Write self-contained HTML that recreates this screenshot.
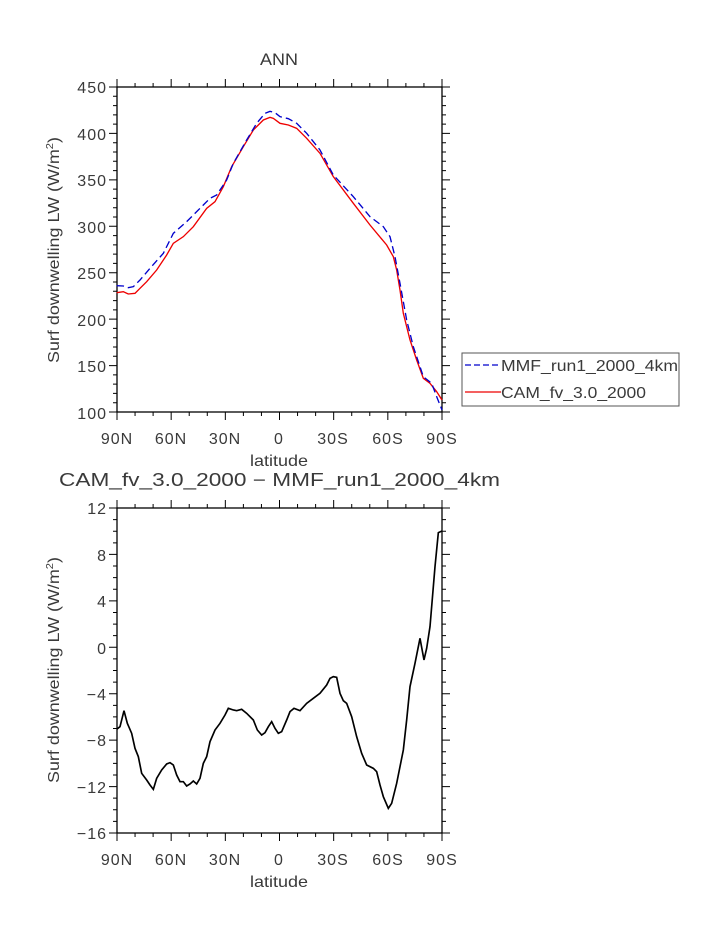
<!DOCTYPE html>
<html><head><meta charset="utf-8"><style>
html,body{margin:0;padding:0;background:#fff;}
svg text{font-family:"Liberation Sans",sans-serif;fill:#3a3a3a;}
</style></head><body>
<svg id="s" width="723" height="935" viewBox="0 0 723 935" xmlns="http://www.w3.org/2000/svg">
<rect width="723" height="935" fill="#fff"/>
<text x="260" y="65" font-size="17" textLength="38" lengthAdjust="spacingAndGlyphs">ANN</text>
<rect x="117" y="87" width="325" height="325" fill="none" stroke="#000" stroke-width="1.3"/>
<g id="t1"></g>
<g font-size="16" text-anchor="end" letter-spacing="1">
<text x="107" y="93">450</text><text x="107" y="140">400</text><text x="107" y="186">350</text><text x="107" y="233">300</text><text x="107" y="279">250</text><text x="107" y="326">200</text><text x="107" y="372">150</text><text x="107" y="419">100</text>
</g>
<g font-size="16" text-anchor="middle" letter-spacing="1">
<text x="117" y="444">90N</text><text x="171" y="444">60N</text><text x="225" y="444">30N</text><text x="279" y="444">0</text><text x="333" y="444">30S</text><text x="388" y="444">60S</text><text x="442" y="444">90S</text>
</g>
<text x="250" y="466" font-size="16" textLength="58" lengthAdjust="spacingAndGlyphs">latitude</text>
<text transform="translate(59,363) rotate(-90)" font-size="16" textLength="226" lengthAdjust="spacingAndGlyphs">Surf downwelling LW (W/m<tspan font-size="10" dy="-6">2</tspan><tspan dy="6">)</tspan></text>
<g transform="translate(40,40) scale(0.33333)" fill="none">
<polyline stroke="#e00" stroke-width="4" points="230,758 250,755 265,762 285,760 300,745 320,725 350,690 380,645 400,610 430,590 460,560 500,505 525,485 550,440 575,380 610,320 640,270 670,240 690,232 700,235 720,250 745,255 770,265 800,295 840,340 880,410 940,490 990,555 1040,615 1060,650 1070,690 1080,750 1090,820 1110,900 1130,960 1150,1015 1170,1030 1190,1055 1206,1080"/>
<polyline stroke="#00c" stroke-width="4" stroke-dasharray="22,12" points="230,737 250,738 265,743 280,740 300,720 330,685 370,640 400,580 440,545 480,505 510,475 530,465 560,420 580,370 620,300 650,250 675,220 690,214 705,218 720,230 745,236 770,250 800,280 840,330 880,405 940,470 990,530 1030,560 1050,590 1065,650 1080,730 1100,840 1120,920 1150,1010 1175,1030 1190,1070 1206,1110"/>
</g>
<rect x="462" y="353" width="217" height="53" fill="#fff" stroke="#555" stroke-width="1"/>
<line x1="465" y1="365" x2="501" y2="365" stroke="#00c" stroke-width="1.3" stroke-dasharray="6,3"/>
<line x1="465" y1="392" x2="501" y2="392" stroke="#e00" stroke-width="1.3"/>
<text x="501" y="371" font-size="16" textLength="177" lengthAdjust="spacingAndGlyphs">MMF_run1_2000_4km</text>
<text x="501" y="398" font-size="16" textLength="145" lengthAdjust="spacingAndGlyphs">CAM_fv_3.0_2000</text>

<text x="59" y="486" font-size="18" textLength="441" lengthAdjust="spacingAndGlyphs">CAM_fv_3.0_2000 − MMF_run1_2000_4km</text>
<rect x="117" y="508" width="325" height="325" fill="none" stroke="#000" stroke-width="1.3"/>
<g id="t2"></g>
<g font-size="16" text-anchor="end" letter-spacing="1">
<text x="107" y="514">12</text><text x="107" y="561">8</text><text x="107" y="607">4</text><text x="107" y="654">0</text><text x="107" y="700">−4</text><text x="107" y="746">−8</text><text x="107" y="793">−12</text><text x="107" y="839">−16</text>
</g>
<g font-size="16" text-anchor="middle" letter-spacing="1">
<text x="117" y="865">90N</text><text x="171" y="865">60N</text><text x="225" y="865">30N</text><text x="279" y="865">0</text><text x="333" y="865">30S</text><text x="388" y="865">60S</text><text x="442" y="865">90S</text>
</g>
<text x="250" y="887" font-size="16" textLength="58" lengthAdjust="spacingAndGlyphs">latitude</text>
<text transform="translate(59,783) rotate(-90)" font-size="16" textLength="226" lengthAdjust="spacingAndGlyphs">Surf downwelling LW (W/m<tspan font-size="10" dy="-6">2</tspan><tspan dy="6">)</tspan></text>
<g transform="translate(40,460) scale(0.33333)" fill="none">
<polyline stroke="#000" stroke-width="5" points="230,808 240,800 252,752 262,790 275,820 285,865 295,890 305,940 320,960 330,975 340,988 350,955 365,930 380,912 390,908 400,915 410,945 420,965 430,965 440,978 450,972 460,963 470,972 480,955 490,910 500,890 510,845 525,810 540,790 555,765 565,745 580,750 590,752 605,748 620,760 640,780 652,810 665,825 675,818 685,800 695,785 705,805 715,820 725,815 740,780 750,755 762,745 780,752 800,730 820,715 840,700 860,675 870,655 880,650 890,652 900,700 910,722 920,730 935,770 950,830 965,880 980,915 1000,925 1010,935 1020,975 1030,1010 1045,1045 1055,1030 1070,970 1090,870 1100,780 1110,680 1125,610 1140,535 1152,600 1160,565 1170,500 1185,320 1195,218 1206,213"/>
</g>
</svg>
<script>
function ticks(id,y0,y1,nMinorY){
 var g=document.getElementById(id),d="";
 var x0=117,x1=442;
 for(var i=0;i<=18;i++){var x=x0+i*(x1-x0)/18,L=(i%3==0)?8:4;
  d+="M"+x+" "+y0+"v-"+L+"M"+x+" "+y1+"v"+L;}
 var n=7*nMinorY;
 for(var j=0;j<=n;j++){var y=y0+j*(y1-y0)/n,L=(j%nMinorY==0)?8:4;
  d+="M"+x0+" "+y+"h-"+L+"M"+x1+" "+y+"h"+L;}
 var p=document.createElementNS("http://www.w3.org/2000/svg","path");
 p.setAttribute("d",d);p.setAttribute("stroke","#000");p.setAttribute("stroke-width","1");
 g.appendChild(p);
}
ticks("t1",87,412,5);
ticks("t2",508,833,4);
</script>
</body></html>
